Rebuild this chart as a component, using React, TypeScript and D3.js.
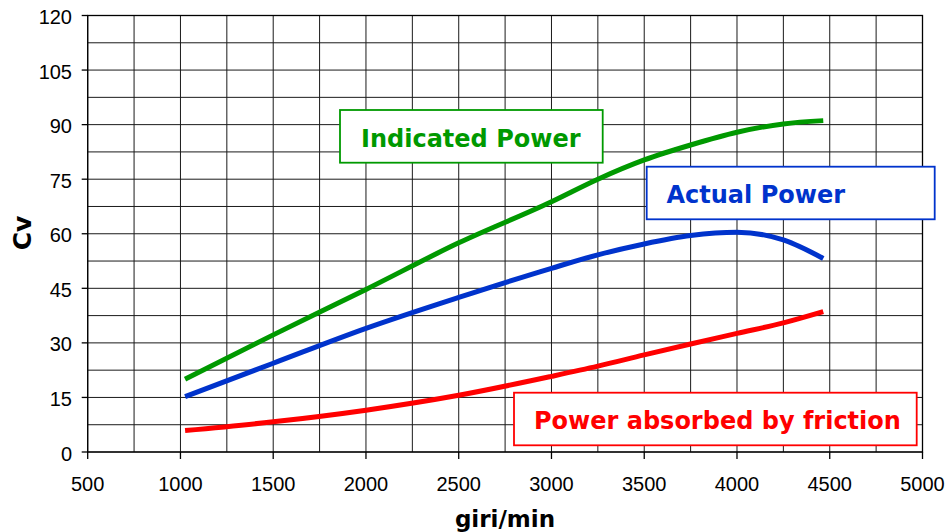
import React from "react";
import * as d3 from "d3";

// ---- data ----
const rpm = [1025, 1500, 2000, 2500, 3000, 3250, 3500, 3750, 4000, 4250, 4465];
const indicatedPower = [20, 32.2, 44.7, 57.5, 68.8, 75, 80.3, 84.4, 87.9, 90.2, 91.1];
const actualPower = [15.2, 24.4, 34, 42.5, 50.5, 54.2, 57.2, 59.5, 60.4, 58.3, 53.2];
const frictionPower = [5.9, 8.3, 11.5, 15.6, 20.8, 23.6, 26.7, 29.7, 32.6, 35.5, 38.6];

const xTicks = [500, 1000, 1500, 2000, 2500, 3000, 3500, 4000, 4500, 5000];
const yTicks = [0, 15, 30, 45, 60, 75, 90, 105, 120];
const seriesNames = ["Indicated Power", "Actual Power", "Power absorbed by friction"];
const xTitle = "giri/min";
const yTitle = "Cv";

// ---- layout ----
const W = 945;
const H = 532;
const L = 87.7, R = 922.5, T = 15.5, B = 452;
const COLORS = ["#009900", "#0033CC", "#FF0000"];
const legendBoxes = [
  { x0: 340, x1: 602.7, y0: 110, y1: 162.7, tx: 361, ty: 146.7 },
  { x0: 646.7, x1: 934.7, y0: 166.7, y1: 219.3, tx: 666.5, ty: 202.7 },
  { x0: 514, x1: 916.7, y0: 392.7, y1: 445.3, tx: 534, ty: 429.3 },
];

export default function App() {
  const x = d3.scaleLinear().domain([500, 5000]).range([L, R]);
  const y = d3.scaleLinear().domain([0, 120]).range([B, T]);
  const xGrid = d3.range(500, 5001, 250);
  const yGrid = d3.range(0, 120.01, 7.5);
  const line = d3
    .line<number>()
    .x((_, i) => x(rpm[i]))
    .y((v) => y(v))
    .curve(d3.curveMonotoneX);
  const series = [indicatedPower, actualPower, frictionPower];
  const sans = "'Liberation Sans', Arial, sans-serif";
  const bold = "'DejaVu Sans', Verdana, sans-serif";

  return (
    <svg width={W} height={H} style={{ position: "absolute", left: 0, top: 0, background: "#fff" }}>
      <rect x={0} y={0} width={W} height={H} fill="#fff" />
      {/* grid */}
      {xGrid.map((v) => (
        <line key={"gx" + v} x1={x(v)} x2={x(v)} y1={T} y2={B} stroke="#1a1a1a" strokeWidth={1} />
      ))}
      {yGrid.map((v) => (
        <line key={"gy" + v} x1={L} x2={R} y1={y(v)} y2={y(v)} stroke="#1a1a1a" strokeWidth={1} />
      ))}
      <rect x={L} y={T} width={R - L} height={B - T} fill="none" stroke="#000" strokeWidth={1.3} />
      {/* ticks */}
      {yTicks.map((v) => (
        <g key={"yt" + v}>
          <line x1={L - 6} x2={L} y1={y(v)} y2={y(v)} stroke="#000" strokeWidth={1.3} />
          <text x={72} y={y(v) + 8.5} textAnchor="end" fontFamily={sans} fontSize={20} fill="#000">
            {v}
          </text>
        </g>
      ))}
      {xTicks.map((v) => (
        <g key={"xt" + v}>
          <line x1={x(v)} x2={x(v)} y1={B} y2={B + 7} stroke="#000" strokeWidth={1.3} />
          <text x={x(v)} y={490.7} textAnchor="middle" fontFamily={sans} fontSize={20} fill="#000">
            {v}
          </text>
        </g>
      ))}
      {/* axis titles */}
      <text x={505} y={527.3} textAnchor="middle" fontFamily={bold} fontWeight="bold" fontSize={23} fill="#000">
        {xTitle}
      </text>
      <text
        transform={`translate(31,233) rotate(-90)`}
        textAnchor="middle"
        fontFamily={bold}
        fontWeight="bold"
        fontSize={25}
        fill="#000"
      >
        {yTitle}
      </text>
      {/* curves */}
      {series.map((s, i) => (
        <path key={"s" + i} d={line(s) || ""} fill="none" stroke={COLORS[i]} strokeWidth={5} />
      ))}
      {/* labels */}
      {legendBoxes.map((b, i) => (
        <g key={"lb" + i}>
          <rect x={b.x0} y={b.y0} width={b.x1 - b.x0} height={b.y1 - b.y0} fill="#fff" stroke={COLORS[i]} strokeWidth={1.8} />
          <text x={b.tx} y={b.ty} fontFamily={bold} fontWeight="bold" fontSize={24} fill={COLORS[i]}>
            {seriesNames[i]}
          </text>
        </g>
      ))}
    </svg>
  );
}
